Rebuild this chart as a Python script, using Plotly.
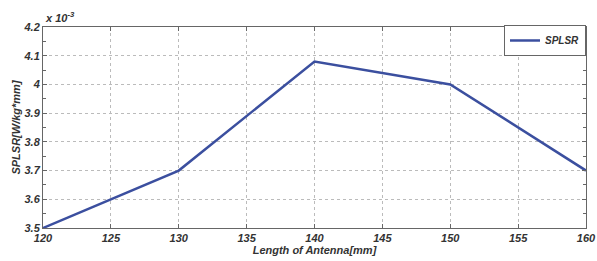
import plotly.graph_objects as go

length_mm = [120, 130, 140, 150, 160]
splsr_e3 = [3.5, 3.7, 4.08, 4.0, 3.7]  # values in units of 1e-3 W/kg*mm

x_ticks = [120, 125, 130, 135, 140, 145, 150, 155, 160]
y_ticks = [3.5, 3.6, 3.7, 3.8, 3.9, 4.0, 4.1, 4.2]
y_tick_text = ["3.5", "3.6", "3.7", "3.8", "3.9", "4", "4.1", "4.2"]

font_bi = dict(family="Liberation Sans, Arial, sans-serif", size=11, color="#333333",
               weight="bold", style="italic")
font_leg = dict(font_bi, size=10)

fig = go.Figure()
fig.add_trace(go.Scatter(x=length_mm, y=splsr_e3, mode="lines", name="SPLSR",
                         line=dict(color="#3b4f9f", width=2.5)))

axis_common = dict(showline=True, linecolor="#666666", linewidth=1, mirror="ticks",
                   ticks="inside", ticklen=4, tickcolor="#666666",
                   showgrid=True, gridcolor="#bbbbbb", griddash="dot", gridwidth=1,
                   zeroline=False, tickfont=font_bi, automargin=False)

fig.update_xaxes(range=[120, 160], tickvals=x_ticks, ticklabelstandoff=0,
                 title=dict(text="Length of Antenna[mm]", font=font_bi, standoff=2), **axis_common)
fig.update_yaxes(range=[3.5, 4.2], tickvals=y_ticks, ticktext=y_tick_text,
                 minor=dict(ticks="inside", ticklen=3, dtick=0.05, tick0=3.5, tickcolor="#666666", showgrid=False),
                 title=dict(text="SPLSR[W/kg*mm]", font=font_bi, standoff=0), **axis_common)

fig.add_annotation(text="x 10<sup>-3</sup>", xref="paper", yref="paper", x=0, y=1,
                   xanchor="left", yanchor="bottom", showarrow=False, font=font_bi, yshift=1)

fig.update_layout(width=597, height=261, margin=dict(l=43, r=11, t=27, b=33),
                  plot_bgcolor="white", paper_bgcolor="white", showlegend=True,
                  legend=dict(x=1.0, y=1.01, xanchor="right", yanchor="top",
                              bordercolor="#666666", borderwidth=1, bgcolor="white",
                              itemwidth=30, font=font_leg))

fig.write_html("out.html", config={"displayModeBar": False},
               post_script="document.body.style.margin='0';")
